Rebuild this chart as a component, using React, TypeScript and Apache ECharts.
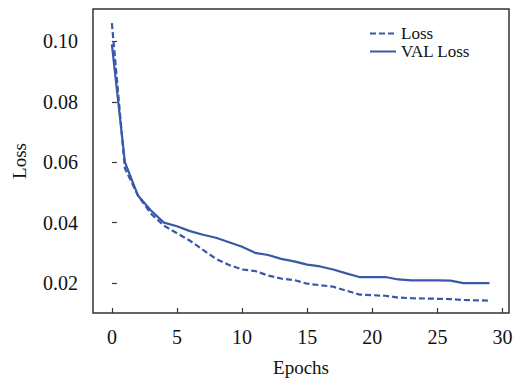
import React, { useEffect, useRef } from "react";
import * as echarts from "echarts";

const epochs = [0, 1, 2, 3, 4, 5, 6, 7, 8, 9, 10, 11, 12, 13, 14, 15, 16, 17, 18, 19, 20, 21, 22, 23, 24, 25, 26, 27, 28, 29];
const loss = [0.106, 0.058, 0.049, 0.043, 0.039, 0.0365, 0.034, 0.031, 0.028, 0.026, 0.0245, 0.024, 0.0225, 0.0215, 0.021, 0.0198, 0.0193, 0.0188, 0.0175, 0.0162, 0.016, 0.0158, 0.0152, 0.015, 0.0149, 0.0148, 0.0147, 0.0144, 0.0143, 0.0142];
const valLoss = [0.099, 0.06, 0.049, 0.044, 0.04, 0.0388, 0.0372, 0.036, 0.035, 0.0335, 0.032, 0.03, 0.0293, 0.028, 0.0272, 0.0261, 0.0255, 0.0245, 0.0232, 0.022, 0.022, 0.022, 0.0212, 0.0209, 0.0209, 0.0209, 0.0208, 0.02, 0.02, 0.02];
const xTicks = [0, 5, 10, 15, 20, 25, 30];
const yTicks = [0.02, 0.04, 0.06, 0.08, 0.1];

const FONT = "'Liberation Serif', 'Times New Roman', serif";
const BLUE = "#3a58aa";

export default function App() {
  const ref = useRef<HTMLDivElement>(null);
  useEffect(() => {
    document.body.style.margin = "0";
    if (!ref.current) return;
    const chart = echarts.init(ref.current, undefined, { renderer: "svg" });
    chart.setOption({
      animation: false,
      backgroundColor: "#fff",
      grid: {
        left: 93,
        top: 9,
        width: 416,
        height: 307,
        show: true,
        borderColor: "#333",
        borderWidth: 1.5,
        backgroundColor: "transparent",
      },
      legend: {
        orient: "vertical",
        left: 364,
        top: 20,
        itemWidth: 26,
        itemHeight: 10,
        itemGap: 1,
        itemStyle: { opacity: 0 },
        textStyle: { fontFamily: FONT, fontSize: 17, color: "#111", lineHeight: 17 },
        data: ["Loss", "VAL Loss"],
      },
      xAxis: {
        type: "value",
        min: -1.45,
        max: 30.5,
        name: "Epochs",
        nameLocation: "middle",
        nameGap: 45,
        nameTextStyle: { fontFamily: FONT, fontSize: 19, color: "#111" },
        axisLine: { show: false },
        splitLine: { show: false },
        axisTick: { show: true, inside: true, length: 5, customValues: xTicks, lineStyle: { color: "#333", width: 1.2 } },
        axisLabel: { customValues: xTicks, fontFamily: FONT, fontSize: 20, color: "#111", margin: 14 },
      },
      yAxis: {
        type: "value",
        min: 0.0101,
        max: 0.1107,
        name: "Loss",
        nameLocation: "middle",
        nameGap: 64,
        nameTextStyle: { fontFamily: FONT, fontSize: 19, color: "#111" },
        axisLine: { show: false },
        splitLine: { show: false },
        axisTick: { show: true, inside: true, length: 5, customValues: yTicks, lineStyle: { color: "#333", width: 1.2 } },
        axisLabel: {
          customValues: yTicks,
          fontFamily: FONT,
          fontSize: 20,
          color: "#111",
          margin: 15,
          formatter: (v: number) => v.toFixed(2),
        },
      },
      series: [
        {
          name: "Loss",
          type: "line",
          symbol: "none",
          data: epochs.map((e, i) => [e, loss[i]]),
          lineStyle: { color: BLUE, width: 2.2, type: [6, 3] },
          itemStyle: { color: BLUE },
        },
        {
          name: "VAL Loss",
          type: "line",
          symbol: "none",
          data: epochs.map((e, i) => [e, valLoss[i]]),
          lineStyle: { color: BLUE, width: 2.2 },
          itemStyle: { color: BLUE },
        },
      ],
    });
    return () => chart.dispose();
  }, []);
  return <div ref={ref} style={{ width: 517, height: 382 }} />;
}
